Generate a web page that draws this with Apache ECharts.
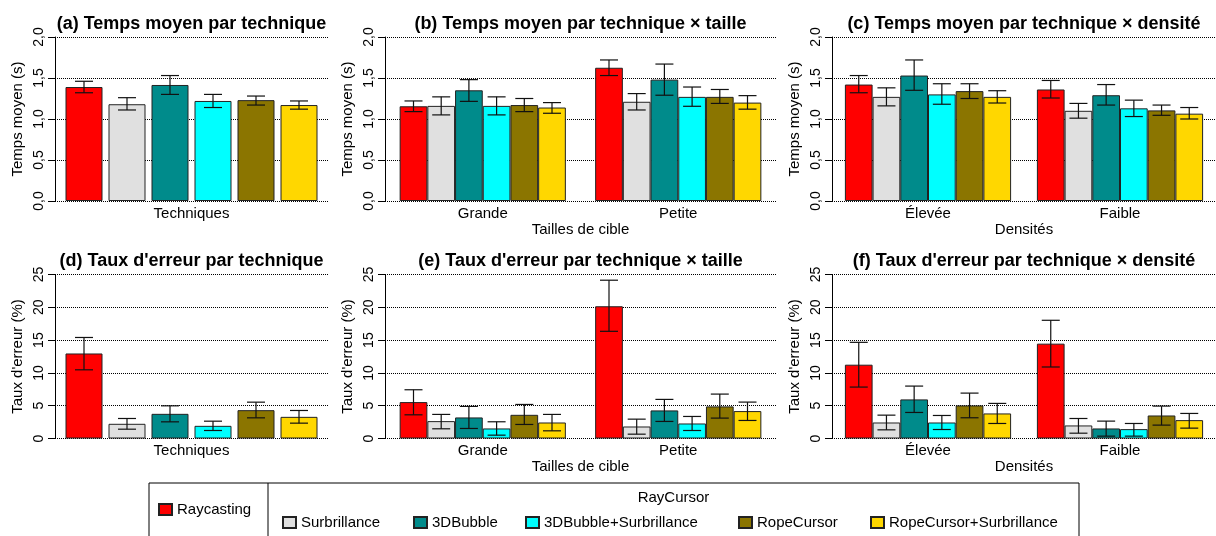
<!DOCTYPE html>
<html>
<head>
<meta charset="utf-8">
<script src="https://cdn.jsdelivr.net/npm/echarts@6/dist/echarts.min.js"></script>
<style>
body { margin: 0; padding: 0; background: #fff; }
#chart { width: 1216px; height: 536px; }
</style>
</head>
<body>
<div id="chart"></div>
<script>
// techniques and colours
const techniques = ['Raycasting', 'Surbrillance', '3DBubble', '3DBubble+Surbrillance', 'RopeCursor', 'RopeCursor+Surbrillance']
const colors = ['#ff0000', '#e0e0e0', '#008b8b', '#00ffff', '#8b7500', '#ffd700']

const techCats = ['Techniques']
const sizeCats = ['Grande', 'Petite']
const densCats = ['Élevée', 'Faible']

// (a) temps moyen par technique
const timeMean = [1.39, 1.18, 1.415, 1.22, 1.23, 1.17]
const timeLow = [1.32, 1.11, 1.30, 1.14, 1.17, 1.12]
const timeHigh = [1.46, 1.26, 1.53, 1.30, 1.28, 1.22]

// (b) temps moyen par technique x taille  [Grande, Petite]
const timeSizeMean = [[1.155, 1.625], [1.16, 1.21], [1.35, 1.48], [1.16, 1.27], [1.17, 1.27], [1.14, 1.20]]
const timeSizeLow = [[1.09, 1.53], [1.05, 1.11], [1.215, 1.29], [1.05, 1.155], [1.09, 1.19], [1.07, 1.12]]
const timeSizeHigh = [[1.22, 1.72], [1.27, 1.31], [1.48, 1.67], [1.27, 1.39], [1.25, 1.36], [1.20, 1.285]]

// (c) temps moyen par technique x densite  [Elevee, Faible]
const timeDensMean = [[1.42, 1.36], [1.27, 1.10], [1.53, 1.29], [1.30, 1.13], [1.34, 1.105], [1.27, 1.065]]
const timeDensLow = [[1.32, 1.256], [1.16, 1.01], [1.35, 1.17], [1.18, 1.03], [1.25, 1.045], [1.195, 1.00]]
const timeDensHigh = [[1.53, 1.47], [1.38, 1.19], [1.72, 1.42], [1.43, 1.23], [1.43, 1.17], [1.345, 1.14]]

// (d) taux d'erreur par technique
const errMean = [12.96, 2.24, 3.76, 1.93, 4.32, 3.30]
const errLow = [10.47, 1.42, 2.54, 1.22, 3.15, 2.34]
const errHigh = [15.4, 3.05, 4.98, 2.64, 5.54, 4.27]

// (e) taux d'erreur par technique x taille
const errSizeMean = [[5.55, 20.16], [2.65, 1.83], [3.21, 4.28], [1.53, 2.29], [3.61, 4.89], [2.44, 4.18]]
const errSizeLow = [[3.61, 16.34], [1.48, 0.66], [1.53, 2.60], [0.51, 1.22], [2.14, 3.11], [1.17, 2.75]]
const errSizeHigh = [[7.43, 24.13], [3.67, 2.95], [4.89, 5.96], [2.55, 3.36], [5.19, 6.77], [3.67, 5.55]]

// (f) taux d'erreur par technique x densite
const errDensMean = [[11.25, 14.46], [2.44, 1.99], [5.96, 1.53], [2.44, 1.43], [5.04, 3.51], [3.82, 2.80]]
const errDensLow = [[7.84, 10.90], [1.32, 0.81], [3.97, 0.36], [1.37, 0.36], [3.16, 2.04], [2.29, 1.58]]
const errDensHigh = [[14.66, 18.02], [3.56, 3.05], [7.99, 2.65], [3.51, 2.29], [6.92, 4.94], [5.35, 3.82]]

const wrap = arr => arr.map(v => [v])

const font = '"Liberation Sans", Arial, Helvetica, sans-serif'

const panels = [
  { title: "(a) Temps moyen par technique", left: 55, width: 273, top: 37, cats: techCats, xName: '',
    mean: wrap(timeMean), low: wrap(timeLow), high: wrap(timeHigh), yName: 'Temps moyen (s)', max: 2, step: 0.5, bw: 37, gap: 6 },
  { title: "(b) Temps moyen par technique × taille", left: 385, width: 391, top: 37, cats: sizeCats, xName: 'Tailles de cible',
    mean: timeSizeMean, low: timeSizeLow, high: timeSizeHigh, yName: 'Temps moyen (s)', max: 2, step: 0.5, bw: 27.7, gap: 0 },
  { title: "(c) Temps moyen par technique × densité", left: 832, width: 384, top: 37, cats: densCats, xName: 'Densités',
    mean: timeDensMean, low: timeDensLow, high: timeDensHigh, yName: 'Temps moyen (s)', max: 2, step: 0.5, bw: 27.7, gap: 0 },
  { title: "(d) Taux d'erreur par technique", left: 55, width: 273, top: 274.5, cats: techCats, xName: '',
    mean: wrap(errMean), low: wrap(errLow), high: wrap(errHigh), yName: "Taux d'erreur (%)", max: 25, step: 5, bw: 37, gap: 6 },
  { title: "(e) Taux d'erreur par technique × taille", left: 385, width: 391, top: 274.5, cats: sizeCats, xName: 'Tailles de cible',
    mean: errSizeMean, low: errSizeLow, high: errSizeHigh, yName: "Taux d'erreur (%)", max: 25, step: 5, bw: 27.7, gap: 0 },
  { title: "(f) Taux d'erreur par technique × densité", left: 832, width: 384, top: 274.5, cats: densCats, xName: 'Densités',
    mean: errDensMean, low: errDensLow, high: errDensHigh, yName: "Taux d'erreur (%)", max: 25, step: 5, bw: 27.7, gap: 0 }
]

const grids = [], xAxes = [], yAxes = [], titles = [], series = []

panels.forEach((p, i) => {
  grids.push({ left: p.left, top: p.top, width: p.width, height: 164 })
  titles.push({
    text: p.title, left: p.left + p.width / 2, top: p.top - 22, textAlign: 'center', padding: 0,
    textStyle: { fontFamily: font, fontSize: 18, fontWeight: 'bold', color: '#000' }
  })
  xAxes.push({
    type: 'category', gridIndex: i, data: p.cats,
    axisLine: { show: false }, axisTick: { show: false },
    axisLabel: { fontFamily: font, fontSize: 15, color: '#000', margin: 5 },
    name: p.xName, nameLocation: 'middle', nameGap: 20,
    nameTextStyle: { fontFamily: font, fontSize: 15, color: '#000' }
  })
  yAxes.push({
    type: 'value', gridIndex: i, min: 0, max: p.max, interval: p.step,
    axisLine: { show: true, lineStyle: { color: '#000', width: 1 } },
    axisTick: { show: true, length: 7, lineStyle: { color: '#000' } },
    axisLabel: {
      rotate: 90, margin: 9, fontFamily: font, fontSize: 14, color: '#000',
      formatter: v => p.max === 2 ? v.toFixed(1).replace('.', ',') : String(v)
    },
    splitLine: { show: true, lineStyle: { color: '#000', type: 'dotted', width: 1 } },
    name: p.yName, nameLocation: 'middle', nameGap: 30,
    nameTextStyle: { fontFamily: font, fontSize: 15, color: '#000' }
  })
  techniques.forEach((t, k) => {
    series.push({
      type: 'bar', name: t, xAxisIndex: i, yAxisIndex: i,
      data: p.mean[k], barWidth: p.bw, barGap: (p.gap / p.bw * 100) + '%',
      itemStyle: { color: colors[k], borderColor: '#222', borderWidth: 1 },
      silent: true
    })
  })
  const errData = []
  techniques.forEach((t, k) => {
    p.cats.forEach((c, j) => errData.push([j, p.low[k][j], p.high[k][j], k]))
  })
  series.push({
    type: 'custom', name: 'err' + i, xAxisIndex: i, yAxisIndex: i, z: 10, silent: true,
    encode: { x: 0, y: [1, 2] },
    data: errData,
    renderItem: (params, api) => {
      const c = api.value(0), k = api.value(3)
      const lo = api.coord([c, api.value(1)])
      const hi = api.coord([c, api.value(2)])
      const x = lo[0] + (k - 2.5) * (p.bw + p.gap)
      const h = 9
      const style = { stroke: '#111', lineWidth: 1.2 }
      return {
        type: 'group', children: [
          { type: 'line', shape: { x1: x, y1: hi[1], x2: x, y2: lo[1] }, style },
          { type: 'line', shape: { x1: x - h, y1: hi[1], x2: x + h, y2: hi[1] }, style },
          { type: 'line', shape: { x1: x - h, y1: lo[1], x2: x + h, y2: lo[1] }, style }
        ]
      }
    }
  })
})

// legend positions (one legend per item)
const legendPos = [[158, 502], [282, 515], [413, 515], [525, 515], [738, 515], [870, 515]]
const legends = techniques.map((t, k) => ({
  data: [t], left: legendPos[k][0], top: legendPos[k][1], padding: 0,
  icon: 'rect', itemWidth: 13, itemHeight: 11, itemGap: 6, selectedMode: false,
  textStyle: { fontFamily: font, fontSize: 15, color: '#000' }
}))

const chart = echarts.init(document.getElementById('chart'))
chart.setOption({
  animation: false,
  backgroundColor: '#fff',
  title: titles,
  grid: grids,
  xAxis: xAxes,
  yAxis: yAxes,
  legend: legends,
  series: series,
  graphic: [
    { type: 'rect', shape: { x: 149, y: 483, width: 930, height: 70 }, style: { fill: 'none', stroke: '#000', lineWidth: 1 } },
    { type: 'line', shape: { x1: 268, y1: 483, x2: 268, y2: 553 }, style: { stroke: '#000', lineWidth: 1 } },
    { type: 'text', x: 673.5, y: 498, style: { text: 'RayCursor', fontFamily: font, fontSize: 15, fill: '#000', align: 'center', verticalAlign: 'middle' } }
  ]
})
</script>
</body>
</html>
